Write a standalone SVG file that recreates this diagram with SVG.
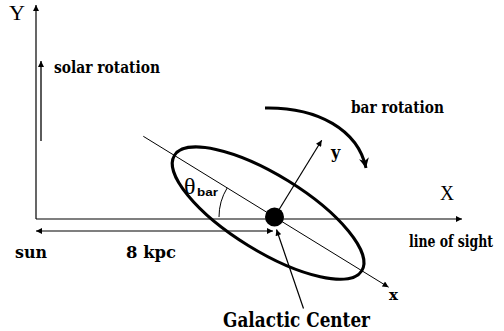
<svg xmlns="http://www.w3.org/2000/svg" width="504" height="331" viewBox="0 0 504 331">
<style>
.ax{font-family:"Liberation Serif","Times New Roman",serif;fill:#000;font-size:20px}
.lbl{font-family:"DejaVu Serif",serif;font-weight:bold;fill:#000}
.s15{font-size:15px}
.s16{font-size:16px}
.s17{font-size:17px}
.s21{font-size:21px}
.thin{stroke:#000;stroke-width:1.2;fill:none}
.thick{stroke:#000;stroke-width:3;fill:none}
</style>
<defs>
<marker id="arr" viewBox="0 0 10 10" refX="10" refY="5" markerWidth="8" markerHeight="6" markerUnits="userSpaceOnUse" orient="auto-start-reverse">
<path d="M0,0 L10,5 L0,10 z" fill="#000"/>
</marker>
<marker id="arrBig" viewBox="0 0 10 10" refX="10" refY="5" markerWidth="12" markerHeight="10" markerUnits="userSpaceOnUse" orient="auto">
<path d="M0,0 L10,5 L0,10 L3,5 z" fill="#000"/>
</marker>
</defs>
<g id="connectors">
<line class="thin" x1="36" y1="219" x2="36" y2="5" marker-end="url(#arr)"/>
<line class="thin" x1="36" y1="219" x2="462" y2="219" marker-end="url(#arr)"/>
<line x1="41" y1="141" x2="41" y2="61" stroke="#333" stroke-width="1.6" marker-end="url(#arr)"/>
<line class="thin" x1="36" y1="231" x2="273" y2="231" marker-start="url(#arr)" marker-end="url(#arr)"/>
<line stroke="#000" stroke-width="1" x1="143.3" y1="136.3" x2="388.6" y2="287.2" marker-end="url(#arr)"/>
<line class="thin" x1="274.5" y1="217" x2="321.7" y2="140.3" marker-end="url(#arr)"/>
<line class="thin" x1="303.5" y1="308.5" x2="276.5" y2="229.5" marker-end="url(#arr)"/>
<path class="thick" d="M265,108 C318,107 358,130 366,168" marker-end="url(#arrBig)"/>
<path stroke="#000" stroke-width="1" fill="none" d="M219,217 A55.5,55.5 0 0 1 227.2,187.9"/>
</g>
<g id="bar">
<ellipse class="thick" cx="268.1" cy="213.1" rx="110" ry="38" transform="rotate(31.6 268.1 213.1)"/>
</g>
<g id="center">
<circle cx="274.5" cy="217" r="9.5" fill="#000"/>
</g>
<g id="labels">
<text class="ax" x="9" y="20" textLength="16" lengthAdjust="spacingAndGlyphs">Y</text>
<text class="ax" x="440" y="200" textLength="14" lengthAdjust="spacingAndGlyphs">X</text>
<text class="lbl s16" x="54" y="73" textLength="106" lengthAdjust="spacingAndGlyphs">solar rotation</text>
<text class="lbl s16" x="351" y="113" textLength="93" lengthAdjust="spacingAndGlyphs">bar rotation</text>
<text class="lbl s16" x="331" y="158">y</text>
<text class="lbl s15" x="389" y="300">x</text>
<text class="lbl s17" x="15" y="258" textLength="32" lengthAdjust="spacingAndGlyphs">sun</text>
<text class="lbl s17" x="126" y="258" textLength="50" lengthAdjust="spacingAndGlyphs">8 kpc</text>
<text class="lbl s16" transform="translate(409 247) scale(0.78 1)" x="0" y="0">line of sight</text>
<text class="lbl s21" x="223" y="327" textLength="147" lengthAdjust="spacingAndGlyphs">Galactic Center</text>
<text x="184" y="194" font-family="Liberation Serif, serif" font-size="24" fill="#000">θ</text>
<text x="197" y="196" font-family="Liberation Sans, Arial, sans-serif" font-size="11" font-weight="bold" fill="#000" textLength="21" lengthAdjust="spacingAndGlyphs">bar</text>
</g>
</svg>
